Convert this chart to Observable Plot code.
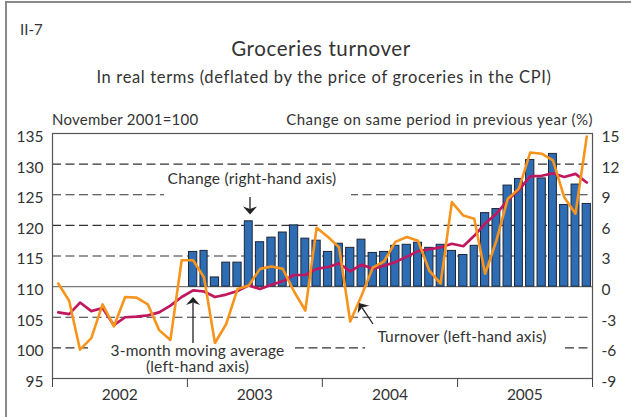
<!DOCTYPE html>
<html><head><meta charset="utf-8">
<script src="https://cdn.jsdelivr.net/npm/d3@7"></script>
<script src="https://cdn.jsdelivr.net/npm/@observablehq/plot@0.6"></script>
<style>
body{margin:0;background:#fff;font-family:Lato,sans-serif;color:#333}
#wrap{position:relative;width:631px;height:417px;overflow:hidden;background:#fff}
.border{position:absolute;left:5px;top:1px;width:700px;height:500px;border-left:2px solid #8a8a8a;border-top:2px solid #8a8a8a}
.t{position:absolute;white-space:nowrap;line-height:1;color:#333}
#chart{position:absolute;left:0;top:100px}
#ann{position:absolute;left:0;top:0}
</style></head>
<body><div id="wrap">
<div class="border"></div>
<div class="t" style="left:20px;top:21.7px;font-size:15px">II-7</div>
<div class="t" style="left:321px;top:37.8px;font-size:20.5px;letter-spacing:0.6px;transform:translateX(-50%)">Groceries turnover</div>
<div class="t" style="left:324px;top:69.4px;font-size:16.5px;letter-spacing:0.65px;transform:translateX(-50%)">In real terms (deflated by the price of groceries in the CPI)</div>
<div class="t" style="left:52px;top:111.7px;font-size:15px;letter-spacing:0.25px">November 2001=100</div>
<div class="t" style="right:38px;top:111.7px;font-size:15px;letter-spacing:0.5px">Change on same period in previous year (%)</div>
<div id="chart"></div>
<svg id="ann" width="631" height="417"></svg>
</div>
<script>
// Monthly data, January 2002 – December 2005
const years = [2002, 2003, 2004, 2005];
const yearLabels = ["2002", "2003", "2004", "2005"];
// Turnover, index November 2001 = 100 (left-hand axis)
const turnover = [
  110.5, 107.7, 99.7, 101.6, 107.1, 103.5, 108.3, 108.2, 107.1, 102.9, 101.3, 114.3,
  114.3, 111.5, 100.8, 103.9, 109.6, 110.2, 112.9, 113.3, 112.9, 109.2, 106.1, 119.6,
  118.1, 116.4, 104.3, 108.5, 113.1, 114.1, 117.3, 118.1, 117.5, 112.6, 110.5, 123.8,
  121.6, 121.1, 112.1, 117.5, 124.3, 126.0, 131.9, 131.7, 130.6, 124.6, 121.9, 134.5
];
// 3-month moving average (left-hand axis)
const movingAvg = [
  105.8, 105.5, 107.4, 106.0, 106.5, 103.7, 105.0, 105.1, 105.3, 105.8, 106.9, 108.3,
  109.4, 109.2, 108.3, 108.7, 109.3, 110.2, 109.6, 110.3, 110.9, 111.9, 111.9, 112.9,
  113.2, 113.8, 112.5, 113.6, 112.9, 113.4, 114.0, 114.9, 115.8, 116.1, 116.4, 117.0,
  116.6, 118.3, 120.3, 121.9, 124.1, 125.8, 128.0, 128.1, 128.5, 127.9, 128.4, 127.0
];
// Change on same period in previous year, % (right-hand axis), Jan 2003 – Dec 2005
const change = [
  3.4, 3.5, 0.9, 2.35, 2.35, 6.4, 4.35, 4.8, 5.3, 6.0, 4.7, 4.5,
  3.4, 4.2, 3.8, 4.6, 3.3, 3.4, 4.0, 4.1, 4.3, 3.8, 4.1, 3.5,
  3.1, 4.0, 7.2, 7.6, 9.9, 10.55, 12.4, 10.6, 13.0, 8.0, 10.0, 8.1
];
const leftTicks = [95, 100, 105, 110, 115, 120, 125, 130, 135];
const gridTicks = [100, 105, 115, 120, 125, 130];

// left 110 <-> right 0 ; 5 left units = 3 right units
const rightToLeft = r => 110 + r * 5 / 3;
const leftToRight = v => Math.round((v - 110) * 3 / 5);

const monthStart = i => new Date(Date.UTC(2002, i, 1));
const rows = turnover.map((t, i) => ({
  mid: new Date((monthStart(i).getTime() + monthStart(i + 1).getTime()) / 2),
  turnover: t,
  ma: movingAvg[i]
}));
const bars = change.map((c, k) => ({start: monthStart(12 + k), end: monthStart(13 + k), change: c}));
const yearBounds = years.concat([2006]).map(y => new Date(Date.UTC(y, 0, 1)));
const yearMids = years.map(y => new Date(Date.UTC(y, 6, 2)));

const chart = Plot.plot({
  width: 631, height: 317,
  marginTop: 33, marginBottom: 39, marginLeft: 52, marginRight: 39,
  style: {fontFamily: "Lato, sans-serif", fontSize: "15.5px", color: "#333", background: "transparent"},
  x: {type: "utc", domain: [yearBounds[0], yearBounds[yearBounds.length - 1]]},
  y: {domain: [95, 135]},
  marks: [
    Plot.ruleY(gridTicks, {stroke: "#333", strokeWidth: 1.2, strokeDasharray: "9,4.5"}),
    Plot.ruleY([110], {stroke: "#777", strokeWidth: 1.2}),
    Plot.rect(bars, {x1: "start", x2: "end", y1: 110, y2: d => rightToLeft(d.change),
      insetLeft: 1.6, insetRight: 1.6, fill: "#2e6db4", stroke: "#1d2636", strokeWidth: 1}),
    Plot.line(rows, {x: "mid", y: "ma", stroke: "#c0185f", strokeWidth: 2.7}),
    Plot.line(rows, {x: "mid", y: "turnover", stroke: "#f7941d", strokeWidth: 2.6}),
    Plot.frame({stroke: "#555", strokeWidth: 1.2}),
    Plot.axisY(leftTicks, {anchor: "left", tickSize: 0, tickPadding: 9, dy: 3.5, label: null}),
    Plot.axisY(leftTicks, {anchor: "right", tickSize: 0, tickPadding: 9, dy: 3.5, label: null,
      tickFormat: v => { const r = leftToRight(v); return r < 0 ? "-" + Math.abs(r) : String(r); }}),
    Plot.axisX(yearBounds, {anchor: "bottom", tickSize: 9, tickFormat: () => "", label: null, stroke: "#444"}),
    Plot.axisX(yearMids, {anchor: "bottom", tickSize: 0, tickPadding: 10.5, label: null,
      tickFormat: d => yearLabels[years.indexOf(d.getUTCFullYear())]})
  ]
});
document.getElementById("chart").appendChild(chart);

// Annotations (labels with white boxes, arrows)
const NS = "http://www.w3.org/2000/svg";
const ann = document.getElementById("ann");
function el(tag, attrs, text) {
  const e = document.createElementNS(NS, tag);
  for (const k in attrs) e.setAttribute(k, attrs[k]);
  if (text) e.textContent = text;
  ann.appendChild(e);
  return e;
}
function box(x, y, w, h) { el("rect", {x, y, width: w, height: h, fill: "#fff"}); }
function label(x, y, s) {
  el("text", {x, y, "text-anchor": "middle", "font-family": "Lato, sans-serif", "font-size": 15.5,
    "letter-spacing": 0.2, fill: "#333"}, s);
}
function arrow(x1, y1, x2, y2) {
  const dx = x2 - x1, dy = y2 - y1, L = Math.hypot(dx, dy), ux = dx / L, uy = dy / L, px = -uy, py = ux;
  const hl = 8, hw = 7, notch = 2.5;
  const bx = x2 - ux * hl, by = y2 - uy * hl;
  const nx = x2 - ux * (hl - notch), ny = y2 - uy * (hl - notch);
  el("line", {x1, y1, x2: nx, y2: ny, stroke: "#222", "stroke-width": 1.3});
  el("path", {d: `M${x2},${y2}L${bx + px * hw},${by + py * hw}L${nx},${ny}L${bx - px * hw},${by - py * hw}Z`, fill: "#222"});
}
box(164, 166, 187, 30);
label(252, 184, "Change (right-hand axis)");
arrow(250, 197, 250, 214.5);

box(92, 344, 199, 32.5);
label(197.5, 355.5, "3-month moving average");
label(197.5, 372, "(left-hand axis)");
arrow(193, 343, 193, 297);

box(365, 326, 198, 24);
label(462, 341.7, "Turnover (left-hand axis)");
arrow(373, 324, 359, 303);
</script>
</body></html>
